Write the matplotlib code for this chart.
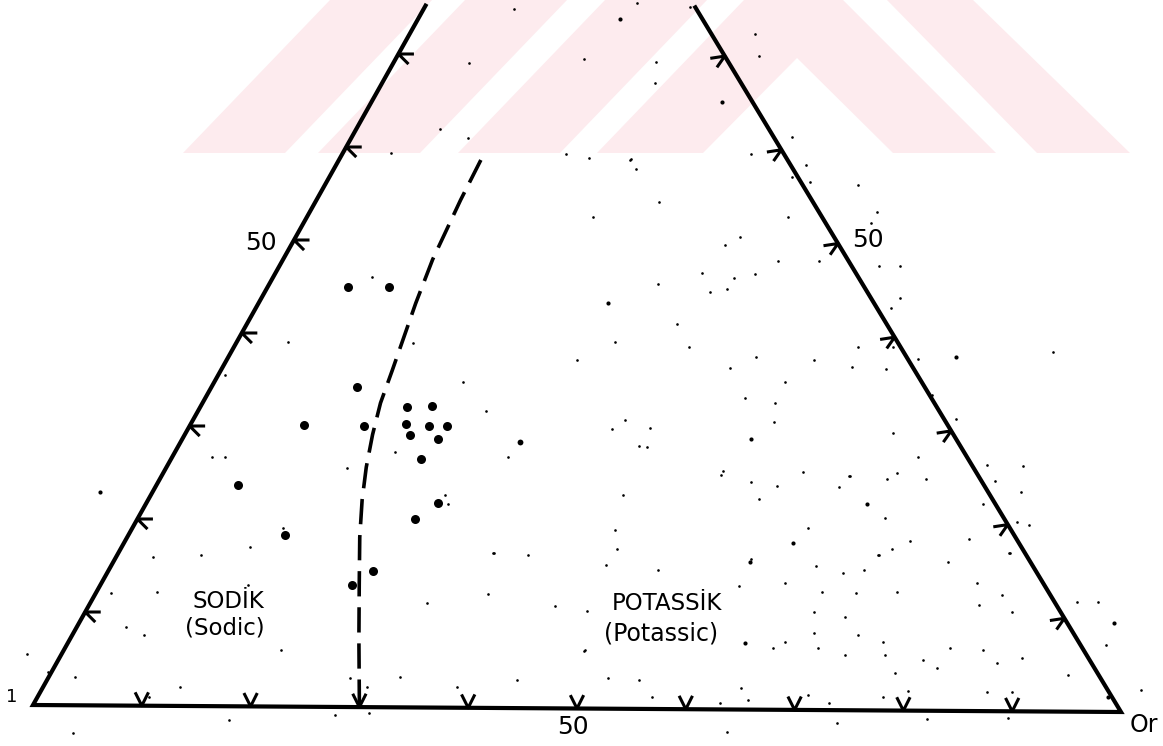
import matplotlib
matplotlib.use('Agg')
import matplotlib.pyplot as plt
from matplotlib.patches import Polygon

# feldspar analyses (% Or, % of the top corner)
or_pct = [7.4, 11.1, 13.3, 10.4, 16.0, 18.9, 21.2, 19.7, 21.9, 23.6,
          20.6, 23.4, 22.9, 7.5, 26.7, 25.4, 14.3, 24.2, 23.0]
top_pct = [45.0, 45.0, 34.3, 30.2, 30.1, 32.2, 32.3, 30.4, 30.2, 30.2,
           29.2, 28.8, 26.6, 23.7, 21.9, 20.2, 18.4, 14.6, 13.1]
small_or_pct = [31.1]
small_top_pct = [28.5]

# sodic / potassic boundary (dashed)
boundary_or = [13.0, 13.2, 13.7, 14.4, 15.7, 16.3, 17.2, 18.3, 19.6, 21.3, 23.7, 26.5, 30.0]
boundary_top = [58.7, 54.4, 48.0, 43.3, 36.1, 32.6, 29.2, 25.7, 22.2, 18.2, 13.1, 7.2, 0.0]

base_ticks = [10, 20, 30, 40, 50, 60, 70, 80, 90]
side_ticks = [10, 20, 30, 40, 50, 60, 70]

# scan specks (image pixels)
specks_small = [
    (514, 9), (584, 59), (656, 62), (655, 83), (469, 63), (440, 129), (468, 138), (391, 153),
    (566, 154), (589, 158), (631, 159), (636, 169), (637, 3), (690, 7), (755, 34), (759, 56),
    (792, 137), (751, 154), (806, 165),
    (288, 342), (225, 375), (212, 457), (225, 457), (283, 528), (250, 547), (347, 468),
    (395, 452), (445, 495), (448, 504), (508, 457), (486, 411), (463, 382), (413, 343),
    (372, 277), (493, 553), (528, 555), (248, 585),
    (153, 557), (201, 555), (111, 593), (157, 592), (126, 627), (144, 635), (281, 650),
    (27, 654), (48, 672), (75, 677), (180, 687), (149, 697), (229, 720), (335, 715),
    (369, 713), (367, 687), (350, 678), (400, 677), (457, 687), (517, 680), (494, 553),
    (488, 594), (427, 603), (555, 606), (587, 611), (584, 651), (73, 733),
    (630, 160), (659, 202), (593, 217), (740, 237), (725, 245), (788, 217), (792, 177),
    (810, 182), (778, 261), (819, 261), (702, 273), (734, 278), (755, 274), (658, 284),
    (710, 292), (727, 289), (677, 324), (615, 342), (689, 347), (577, 360), (756, 357),
    (814, 360), (730, 368), (785, 382), (745, 398), (775, 403), (774, 422), (625, 420),
    (612, 429), (650, 428), (639, 446), (647, 447), (723, 471), (721, 475), (751, 482),
    (777, 486), (803, 472), (839, 487), (849, 476), (759, 499), (623, 495), (615, 530),
    (617, 549), (808, 528), (751, 559),
    (858, 185), (877, 212), (871, 223), (879, 266), (900, 266), (900, 298), (891, 308),
    (893, 347), (858, 347), (852, 367), (886, 369), (918, 359), (1053, 352), (932, 395),
    (956, 419), (893, 433), (918, 457), (897, 473), (926, 479), (887, 479), (850, 476),
    (987, 465), (1023, 466), (995, 481), (1021, 492), (885, 518), (983, 504), (1029, 525),
    (1017, 522), (969, 539), (910, 541), (892, 549), (879, 555), (1009, 553),
    (606, 565), (658, 570), (816, 566), (843, 573), (864, 570), (878, 555), (948, 562),
    (1010, 553), (739, 586), (785, 583), (822, 592), (856, 593), (897, 592), (977, 583),
    (1002, 595), (814, 612), (845, 617), (979, 605), (1012, 612), (1077, 602), (1098, 602),
    (785, 642), (814, 633), (858, 635), (883, 642), (983, 650), (1022, 658), (950, 648),
    (1106, 645), (773, 648), (818, 648), (845, 655), (885, 655), (923, 660), (937, 668),
    (997, 663), (1068, 675), (585, 650), (608, 678), (639, 680), (895, 673), (652, 697),
    (720, 703), (741, 688), (748, 700), (808, 695), (829, 703), (883, 697), (908, 691),
    (987, 692), (1012, 692), (1141, 690), (837, 723), (927, 719), (1008, 718), (727, 732),
]
specks_medium = [(100, 492), (722, 102), (620, 19), (608, 303), (751, 439), (793, 543),
                 (956, 357), (867, 504), (750, 562), (1114, 623), (745, 643), (1108, 697)]

# watermark stripes (image pixels)
watermark = [
    [(183, 153), (285, 153), (432, 0), (330, 0)],
    [(318, 153), (420, 153), (567, 0), (465, 0)],
    [(458, 153), (560, 153), (707, 0), (605, 0)],
    [(597, 153), (744, 0), (843, 0), (996, 153), (893, 153), (797, 58), (703, 153)],
    [(1037, 153), (1130, 153), (973, 0), (887, 0)],
]

# corners of the (slightly skewed) scanned triangle in image pixels
AB = (33, 705)
OR = (1121, 712)
TOP = (555, -225)
TOP_CUT = 75.2  # edges run off the top of the scan here


def tern_xy(o, t):
    o = o / 100.0
    t = t / 100.0
    x = AB[0] + o * (OR[0] - AB[0]) + t * (TOP[0] - AB[0])
    y = AB[1] + o * (OR[1] - AB[1]) + t * (TOP[1] - AB[1])
    return x, y


fig = plt.figure(figsize=(11.63, 7.46), dpi=100)
ax = fig.add_axes([0, 0, 1, 1])
ax.set_xlim(0, 1163)
ax.set_ylim(746, 0)
ax.axis('off')

for poly in watermark:
    ax.add_patch(Polygon(poly, closed=True, facecolor='#fdebee', edgecolor='none', zorder=0))

# triangle frame
lx, ly = tern_xy(0, TOP_CUT)
rx, ry = tern_xy(100 - TOP_CUT, TOP_CUT)
bx, by = tern_xy(0, 0)
cx, cy = tern_xy(100, 0)
ax.plot([lx, bx, cx, rx], [ly, by, cy, ry], color='black', lw=3.0,
        solid_joinstyle='miter', zorder=3)

# tick marks
for v in base_ticks:
    x, y = tern_xy(v, 0)
    ax.plot([x - 6, x, x + 6], [y - 12, y, y - 12], color='black', lw=2.2, zorder=3)
for v in side_ticks:
    x, y = tern_xy(0, v)
    ax.plot([x + 14, x, x + 9], [y, y, y + 9], color='black', lw=2.2, zorder=3)
    x, y = tern_xy(100 - v, v)
    ax.plot([x - 13, x, x - 7], [y + 2, y, y + 10], color='black', lw=2.2, zorder=3)

# boundary
bxs, bys = zip(*[tern_xy(o, t) for o, t in zip(boundary_or, boundary_top)])
ax.plot(bxs, bys, color='black', lw=2.6, linestyle=(0, (7, 3)), zorder=3)

# specks
sx, sy = zip(*specks_small)
ax.plot(sx, sy, 'o', color='black', ms=1.9, mew=0, zorder=2)
sx, sy = zip(*specks_medium)
ax.plot(sx, sy, 'o', color='black', ms=3.0, mew=0, zorder=2)

# analyses
px, py = zip(*[tern_xy(o, t) for o, t in zip(or_pct, top_pct)])
ax.plot(px, py, 'o', color='black', ms=6.5, mew=0, zorder=4)
px, py = zip(*[tern_xy(o, t) for o, t in zip(small_or_pct, small_top_pct)])
ax.plot(px, py, 'o', color='black', ms=4.2, mew=0, zorder=4)

# labels
ax.text(261, 243, '50', fontsize=18, ha='center', va='center')
ax.text(868, 240, '50', fontsize=18, ha='center', va='center')
ax.text(573, 727, '50', fontsize=18, ha='center', va='center')
ax.text(12, 697, '1', fontsize=13, ha='center', va='center')
ax.text(1144, 725, 'Or', fontsize=17, ha='center', va='center')
ax.text(228, 601, 'SODİK', fontsize=16.5, ha='center', va='center')
ax.text(225, 628, '(Sodic)', fontsize=16.5, ha='center', va='center')
ax.text(667, 603, 'POTASSİK', fontsize=16.5, ha='center', va='center')
ax.text(661, 633, '(Potassic)', fontsize=17, ha='center', va='center')

fig.savefig('out.png', dpi=100)
